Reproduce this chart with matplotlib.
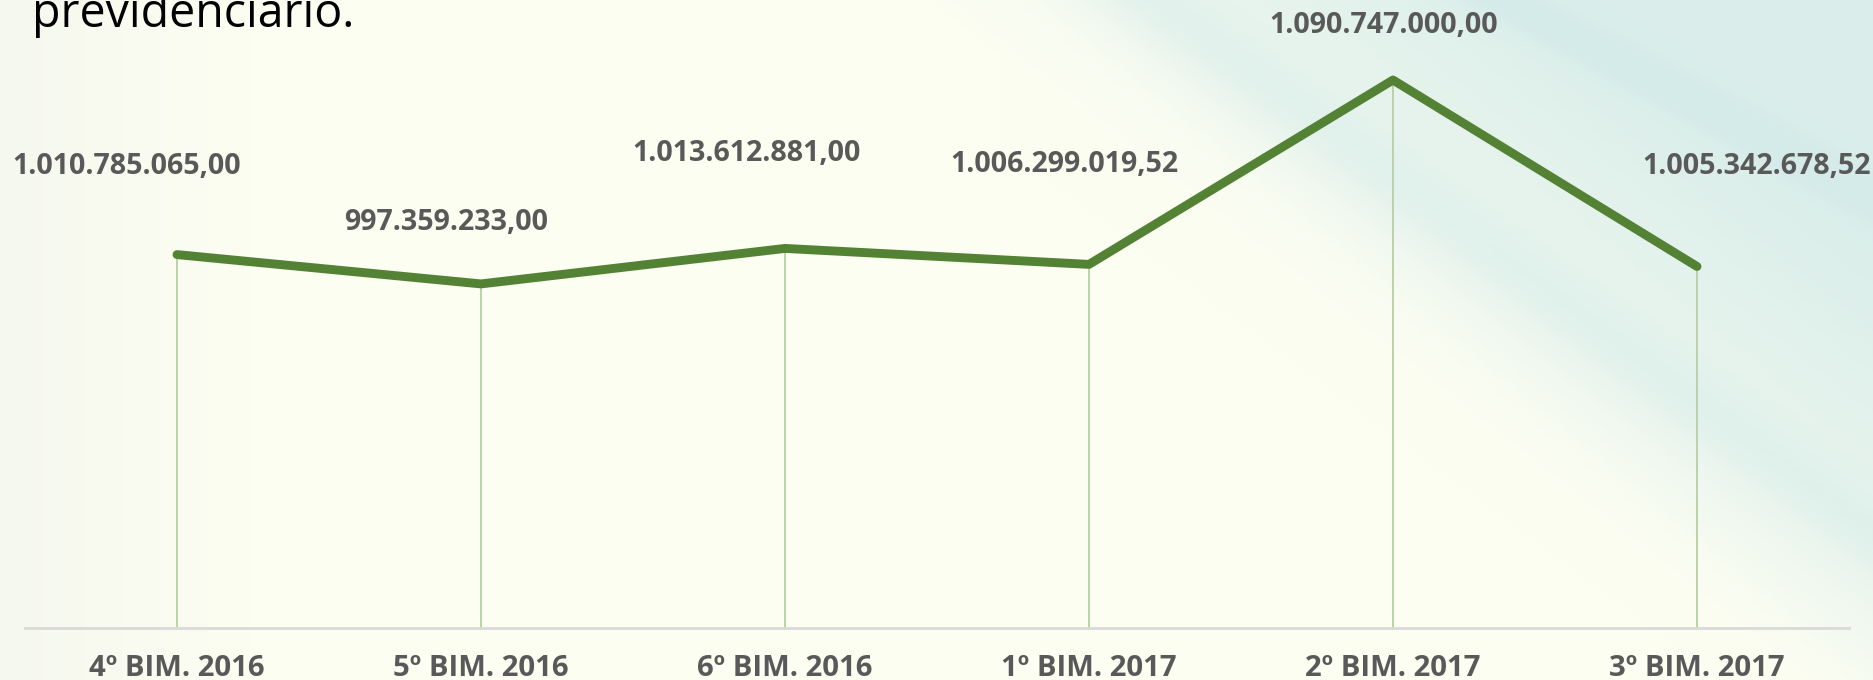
import numpy as np
import matplotlib
matplotlib.use("Agg")
import matplotlib.pyplot as plt

# dados
periodos = ["4º BIM. 2016", "5º BIM. 2016", "6º BIM. 2016",
            "1º BIM. 2017", "2º BIM. 2017", "3º BIM. 2017"]
valores = [1010785065.00, 997359233.00, 1013612881.00,
           1006299019.52, 1090747000.00, 1005342678.52]

# deslocamento dos rótulos (pixels)
desloc = [(-50, 88), (-35, 61), (-38, 95), (-25, 100), (-9, 55), (60, 100)]


def formata(v):
    s = f"{v:,.2f}"
    return s.replace(",", "X").replace(".", ",").replace("X", ".")


W, H = 1874, 680
fig = plt.figure(figsize=(W / 100, H / 100), dpi=100)

# fundo (creme com faixas verde-água à direita)
yy, xx = np.mgrid[0:H, 0:W].astype(float)
creme = np.array([253, 254, 242]) / 255
agua = np.array([212, 235, 233]) / 255
cinza = np.array([240, 244, 236]) / 255
d = (xx - 930) - yy * 1.25
t = np.clip(d / 650, 0, 1) ** 0.7 * 0.85
faixa = np.exp(-((xx - 1150 - yy * 1.35) / 60) ** 2) * 0.25
faixa2 = np.exp(-((xx - 1500 - yy * 1.9) / 40) ** 2) * 0.3
claro = np.exp(-((xx - 1000 - yy * 1.2) / 70) ** 2) * 0.5
t = np.clip(t + faixa * (xx > 1000) + faixa2 - claro * t, 0, 1)
esq = np.clip(1 - xx / 250, 0, 1) * 0.6
img = creme * (1 - t[..., None]) + agua * t[..., None]
img = img * (1 - esq[..., None]) + cinza * esq[..., None]
bg = fig.add_axes([0, 0, 1, 1])
bg.imshow(img, aspect="auto", extent=[0, 1, 0, 1])
bg.axis("off")

ax = fig.add_axes([25 / W, 1 - 627.5 / H, (1849 - 25) / W, (627.5 - 59.8) / H])
ax.patch.set_alpha(0)
x = np.arange(len(periodos))

ax.vlines(x, 840e6, valores, color="#B7CFA3", lw=1.3, zorder=1)
ax.plot(x, valores, color="#548235", lw=6.4, solid_capstyle="round",
        solid_joinstyle="round", zorder=3)

for xi, v, (dx, dy) in zip(x, valores, desloc):
    ax.annotate(formata(v), (xi, v), textcoords="offset pixels",
                xytext=(dx, dy), ha="center", va="center",
                fontsize=20.6, fontweight="bold", color="#595959",
                family="Open Sans")

ax.set_xlim(-0.5, 5.5)
ax.set_ylim(840e6, 1100e6)
ax.set_xticks(x)
ax.set_xticklabels(periodos, fontsize=21.2, fontweight="bold",
                   color="#595959", family="Open Sans")
ax.tick_params(axis="x", length=0, pad=19)
ax.set_yticks([])
for s in ["top", "right", "left"]:
    ax.spines[s].set_visible(False)
ax.spines["bottom"].set_color("#D9D9D9")
ax.spines["bottom"].set_linewidth(2)

fig.text(32 / W, 1 - 27 / H, "previdenciário.", fontsize=33.5,
         family="Open Sans", color="black", va="baseline", ha="left")

fig.savefig("out.png", dpi=100)
